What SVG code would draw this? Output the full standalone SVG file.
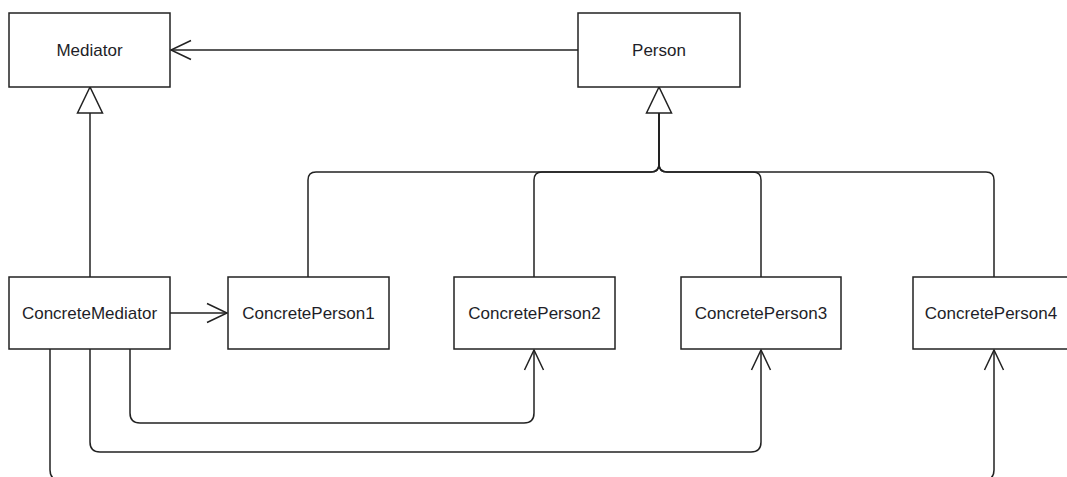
<svg xmlns="http://www.w3.org/2000/svg" width="1067" height="477" viewBox="0 0 1067 477">
<style>
.box{fill:#fff;stroke:#222;stroke-width:1.5}
.lbl{font-family:"Liberation Sans",Arial,sans-serif;font-size:17px;fill:#1e1e28;text-anchor:middle}
.edge{fill:none;stroke:#222;stroke-width:1.5}
.tri{fill:#fff;stroke:#222;stroke-width:1.5}
</style>
<defs>
<marker id="open" markerWidth="24" markerHeight="24" viewBox="-22 -11 24 22" refX="0" refY="0" orient="auto" markerUnits="userSpaceOnUse">
<path d="M-20,-9.5 L0,0 L-20,9.5" fill="none" stroke="#222" stroke-width="1.5"/>
</marker>
</defs>
<rect width="1067" height="477" fill="#fff"/>
<g id="connectors">
<path class="edge" d="M578,50 H171" marker-end="url(#open)"/>
<path class="edge" d="M90,277 V113"/>
<path class="edge" d="M308,277 V180 Q308,172 316,172 H651 Q659,172 659,164 V113"/>
<path class="edge" d="M534,277 V180 Q534,172 542,172 H651 Q659,172 659,164 V113"/>
<path class="edge" d="M761,277 V180 Q761,172 753,172 H667 Q659,172 659,164 V113"/>
<path class="edge" d="M994,277 V180 Q994,172 986,172 H667 Q659,172 659,164 V113"/>
<path class="edge" d="M170,313 H227" marker-end="url(#open)"/>
<path class="edge" d="M130,349 V413 Q130,423 140,423 H524 Q534,423 534,413 V350" marker-end="url(#open)"/>
<path class="edge" d="M90,349 V442 Q90,452 100,452 H751 Q761,452 761,442 V350" marker-end="url(#open)"/>
<path class="edge" d="M50,349 V470 Q50,480 60,480 H984 Q994,480 994,470 V350" marker-end="url(#open)"/>
<polygon class="tri" points="90,87 77.5,113 102.5,113"/>
<polygon class="tri" points="659,87 646.5,113 671.5,113"/>
</g>
<g id="Mediator">
<rect class="box" x="9" y="13" width="161" height="74"/>
<text class="lbl" x="89.5" y="56">Mediator</text>
</g>
<g id="Person">
<rect class="box" x="578" y="13" width="162" height="74"/>
<text class="lbl" x="659" y="56">Person</text>
</g>
<g id="ConcreteMediator">
<rect class="box" x="9" y="277" width="161" height="72"/>
<text class="lbl" x="89.5" y="319">ConcreteMediator</text>
</g>
<g id="ConcretePerson1">
<rect class="box" x="228" y="277" width="161" height="72"/>
<text class="lbl" x="308.5" y="319">ConcretePerson1</text>
</g>
<g id="ConcretePerson2">
<rect class="box" x="454" y="277" width="161" height="72"/>
<text class="lbl" x="534.5" y="319">ConcretePerson2</text>
</g>
<g id="ConcretePerson3">
<rect class="box" x="681" y="277" width="160" height="72"/>
<text class="lbl" x="761" y="319">ConcretePerson3</text>
</g>
<g id="ConcretePerson4">
<rect class="box" x="913" y="277" width="161" height="72"/>
<text class="lbl" x="991" y="319">ConcretePerson4</text>
</g>
</svg>
